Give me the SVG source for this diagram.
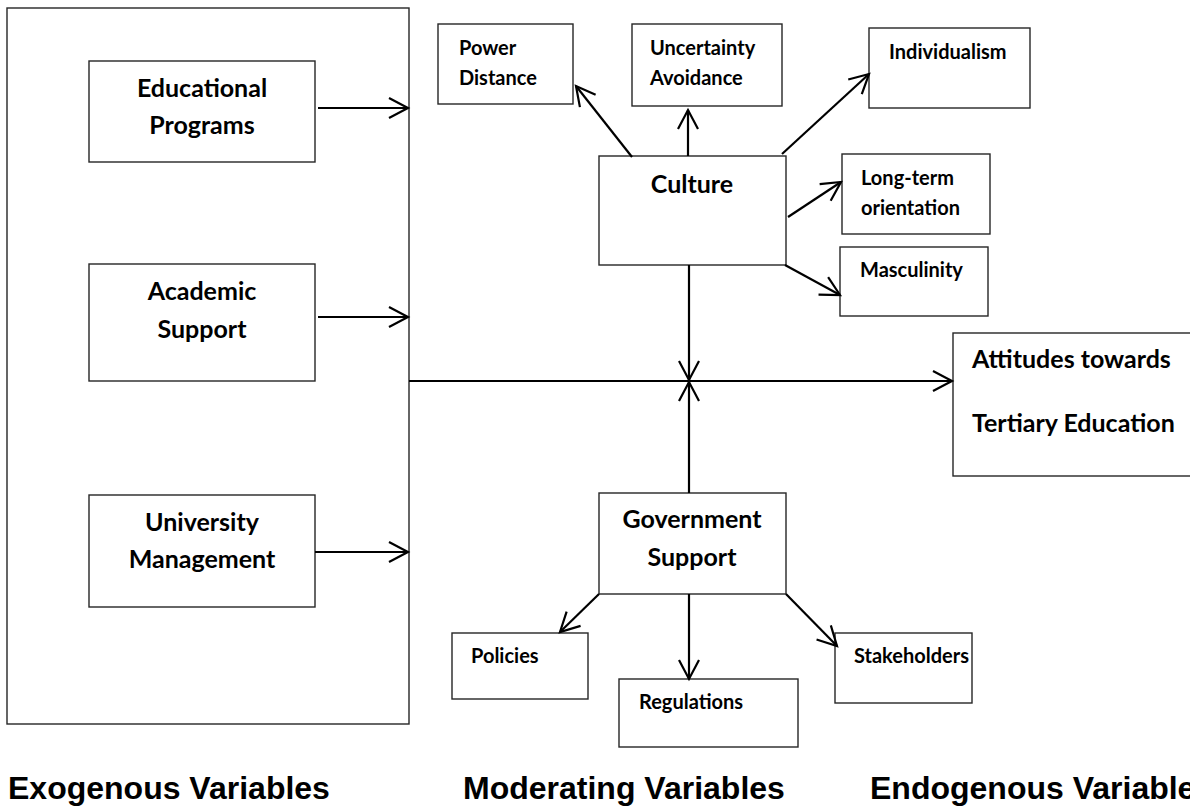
<svg xmlns="http://www.w3.org/2000/svg" width="1190" height="807" viewBox="0 0 1190 807">
<defs>
<marker id="arr" markerUnits="userSpaceOnUse" viewBox="-22 -13 25 26" refX="0" refY="0" markerWidth="25" markerHeight="26" orient="auto">
<path d="M-19,-10 L0,0 L-19,10" fill="none" stroke="#000" stroke-width="2.2" stroke-linejoin="miter"/>
</marker>
<style>
.box{fill:#fff;stroke:#262626;stroke-width:1.4}
.big{font-family:Lato,"Liberation Sans",sans-serif;font-weight:bold;font-size:25px;fill:#000}
.sm{font-family:Lato,"Liberation Sans",sans-serif;font-weight:bold;font-size:20px;fill:#000}
.ttl{font-family:"Liberation Sans",Arial,sans-serif;font-weight:bold;font-size:32px;fill:#000}
.c{text-anchor:middle}
.ln{stroke:#000;stroke-width:2.2;fill:none}
.ar{marker-end:url(#arr)}
</style>
</defs>
<rect width="1190" height="807" fill="#fff"/>
<g id="exogenous-group"><rect class="box" x="7" y="8" width="402" height="716"/></g>
<g id="educational-programs"><rect class="box" x="89" y="61" width="226" height="101"/>
<text class="big c" x="202" y="97">Educational</text><text class="big c" x="202" y="134">Programs</text></g>
<g id="academic-support"><rect class="box" x="89" y="264" width="226" height="117"/>
<text class="big c" x="202" y="300">Academic</text><text class="big c" x="202" y="338">Support</text></g>
<g id="university-management"><rect class="box" x="89" y="495" width="226" height="112"/>
<text class="big c" x="202" y="531">University</text><text class="big c" x="202" y="568">Management</text></g>
<g id="culture"><rect class="box" x="599" y="156" width="187" height="109"/>
<text class="big c" x="692" y="193">Culture</text></g>
<g id="power-distance"><rect class="box" x="438" y="24" width="135" height="80"/>
<text class="sm" x="459" y="55">Power</text><text class="sm" x="459" y="85">Distance</text></g>
<g id="uncertainty-avoidance"><rect class="box" x="632" y="24" width="150" height="82"/>
<text class="sm" x="650" y="55">Uncertainty</text><text class="sm" x="650" y="85">Avoidance</text></g>
<g id="individualism"><rect class="box" x="869" y="28" width="161" height="80"/>
<text class="sm" x="889" y="59">Individualism</text></g>
<g id="long-term-orientation"><rect class="box" x="842" y="154" width="148" height="80"/>
<text class="sm" x="861" y="185">Long-term</text><text class="sm" x="861" y="215">orientation</text></g>
<g id="masculinity"><rect class="box" x="840" y="247" width="148" height="69"/>
<text class="sm" x="860" y="277">Masculinity</text></g>
<g id="attitudes"><rect class="box" x="953" y="333" width="250" height="143"/>
<text class="big" x="972" y="368">Attitudes towards</text><text class="big" x="972" y="432">Tertiary Education</text></g>
<g id="government-support"><rect class="box" x="599" y="493" width="187" height="101"/>
<text class="big c" x="692" y="528">Government</text><text class="big c" x="692" y="566">Support</text></g>
<g id="policies"><rect class="box" x="452" y="633" width="136" height="66"/>
<text class="sm" x="471" y="663">Policies</text></g>
<g id="regulations"><rect class="box" x="619" y="679" width="179" height="68"/>
<text class="sm" x="639" y="709">Regulations</text></g>
<g id="stakeholders"><rect class="box" x="835" y="633" width="137" height="70"/>
<text class="sm" x="854" y="663">Stakeholders</text></g>
<g id="connectors">
<line class="ln ar" x1="318" y1="108" x2="408" y2="108"/>
<line class="ln ar" x1="318" y1="317" x2="408" y2="317"/>
<line class="ln ar" x1="315" y1="552" x2="408" y2="552"/>
<line class="ln ar" x1="409" y1="381" x2="952" y2="381"/>
<line class="ln ar" x1="689" y1="265" x2="689" y2="380"/>
<line class="ln ar" x1="689" y1="493" x2="689" y2="382"/>
<line class="ln ar" x1="632" y1="157" x2="576" y2="86"/>
<line class="ln ar" x1="688" y1="156" x2="688" y2="110"/>
<line class="ln ar" x1="782" y1="154" x2="869" y2="74"/>
<line class="ln ar" x1="788" y1="217" x2="841" y2="182"/>
<line class="ln ar" x1="785" y1="265" x2="840" y2="295"/>
<line class="ln ar" x1="599" y1="594" x2="560" y2="632"/>
<line class="ln ar" x1="689" y1="594" x2="689" y2="679"/>
<line class="ln ar" x1="786" y1="594" x2="837" y2="646"/>
</g>
<g id="titles">
<text class="ttl" x="8" y="799">Exogenous Variables</text>
<text class="ttl" x="463" y="799">Moderating Variables</text>
<text class="ttl" x="870" y="799">Endogenous Variables</text>
</g>
</svg>
